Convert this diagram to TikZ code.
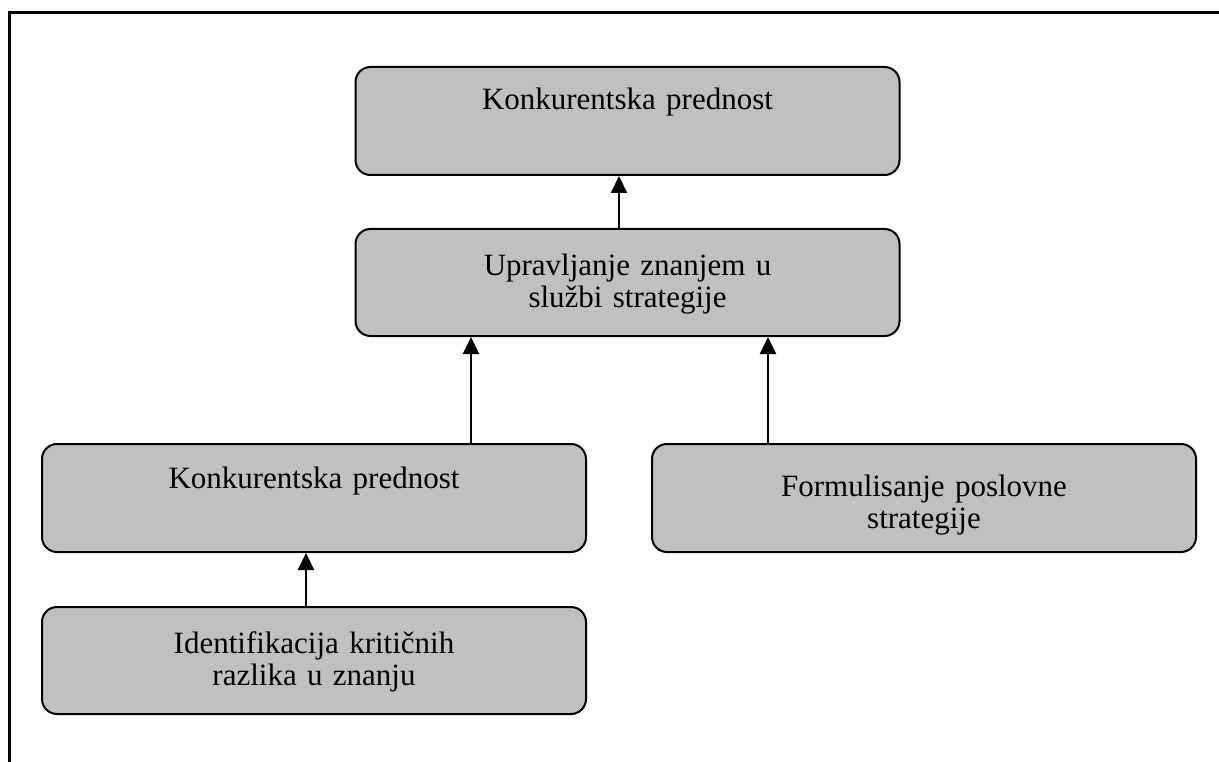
\documentclass[tikz,border=0pt]{standalone}
\usepackage{fontspec}
\setmainfont{Liberation Serif}
\usetikzlibrary{arrows.meta}
\definecolor{boxgray}{RGB}{192,192,192}
\begin{document}
\begin{tikzpicture}[x=1pt,y=-1pt,
  stagebox/.style={draw=black, line width=2pt, fill=boxgray,
    rounded corners=15pt, inner sep=0pt, anchor=north,
    text width=544pt, align=center,
    font=\fontsize{31}{32}\selectfont},
  uparrow/.style={draw=black, line width=2pt,
    -{Triangle[length=17pt,width=16pt]}}]
\useasboundingbox (0,0) rectangle (1219,762);
% frame: top and left edge only
\draw[line width=2.6pt] (9.5,762) -- (9.5,12.5) -- (1219,12.5);

% boxes (anchored at their top edge)
\node[stagebox, text height=43pt, text depth=65pt] (adv)  at (627.5,66)  {Konkurentska prednost};
\node[stagebox, text height=47pt, text depth=60pt] (km)   at (627.5,228) {Upravljanje znanjem u\\službi strategije};
\node[stagebox, text height=44pt, text depth=64pt] (adv2) at (314,443)   {Konkurentska prednost};
\node[stagebox, text height=52pt, text depth=56pt] (form) at (924,443)   {Formulisanje poslovne\\strategije};
\node[stagebox, text height=46pt, text depth=61pt] (gap)  at (314,606)   {Identifikacija kritičnih\\razlika u znanju};

% connectors
\draw[uparrow] (km.north -| 619,0)  -- (adv.south -| 619,0);
\draw[uparrow] (adv2.north -| 471,0) -- (km.south -| 471,0);
\draw[uparrow] (form.north -| 768,0) -- (km.south -| 768,0);
\draw[uparrow] (gap.north -| 306,0)  -- (adv2.south -| 306,0);
\end{tikzpicture}
\end{document}
